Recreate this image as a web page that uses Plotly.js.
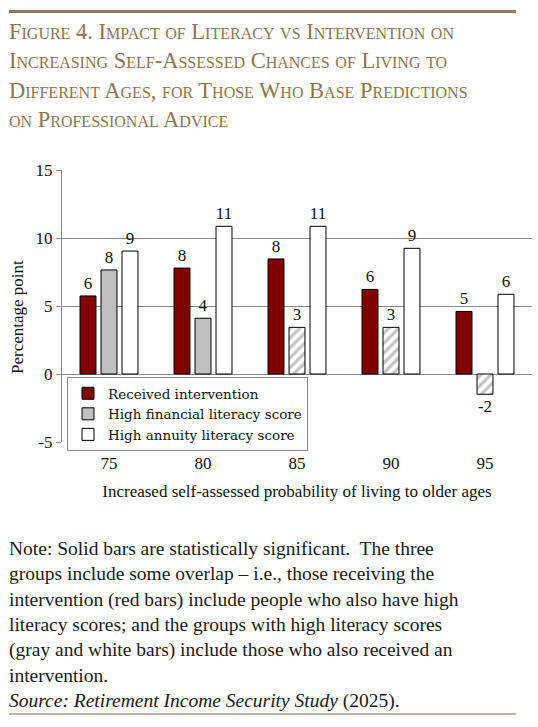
<!DOCTYPE html>
<html>
<head>
<meta charset="utf-8">
<script src="https://cdn.plot.ly/plotly-3.0.1.min.js"></script>
<style>
  html, body { margin: 0; padding: 0; background: #fff; }
  #chart { width: 538px; height: 727px; }
</style>
</head>
<body>
<div id="chart"></div>
<script>
// ages (categories)
const ages = ["75", "80", "85", "90", "95"];

// series values, percentage points
const intervention = [5.74, 7.79, 8.46, 6.22, 4.6];
const finLiteracy = [7.65, 4.1, 3.43, 3.43, -1.49];
const annLiteracy = [9.04, 10.86, 10.86, 9.24, 5.86];

// labels printed on the bars
const interventionLbl = ["6", "8", "8", "6", "5"];
const finLiteracyLbl = ["8", "4", "3", "3", "-2"];
const annLiteracyLbl = ["9", "11", "11", "9", "6"];

// gray bars that are not significant get hatched
const finSignificant = [true, true, false, false, false];

const yTicks = [-5, 0, 5, 10, 15];
const yTickText = ["-5", "0", "5", "10", "15"];
const boundaries = [-0.5, 0.5, 1.5, 2.5, 3.5, 4.5];

const serif = "Liberation Serif, Times New Roman, serif";

// plot area in pixels, used to place the text outside it
const L = 62, R = 532, T = 170, B = 442;
const px2x = x => (x - L) / (R - L);
const px2y = y => 1 - (y - T) / (B - T);

const common = {
  type: "bar",
  x: ages,
  textposition: "outside",
  cliponaxis: false,
  constraintext: "none",
  textfont: { family: serif, size: 17, color: "#111" },
  hoverinfo: "skip"
};

const traces = [
  Object.assign({}, common, {
    name: "Received intervention",
    y: intervention,
    text: interventionLbl,
    marker: { color: "#800000", line: { color: "#000", width: 1 } }
  }),
  Object.assign({}, common, {
    name: "High financial literacy score",
    y: finLiteracy,
    text: finLiteracyLbl,
    marker: {
      color: "#c0c0c0",
      line: { color: "#000", width: 1 },
      pattern: {
        shape: finSignificant.map(s => s ? "" : "/"),
        fgcolor: "#c4c4c4",
        bgcolor: "#fff",
        size: 7,
        solidity: 0.45
      }
    }
  }),
  Object.assign({}, common, {
    name: "High annuity literacy score",
    y: annLiteracy,
    text: annLiteracyLbl,
    marker: { color: "#fff", line: { color: "#000", width: 1 } }
  })
];

const note = "Note: Solid bars are statistically significant.  The three<br>" +
  "groups include some overlap \u2013 i.e., those receiving the<br>" +
  "intervention (red bars) include people who also have high<br>" +
  "literacy scores; and the groups with high literacy scores<br>" +
  "(gray and white bars) include those who also received an<br>" +
  "intervention.<br>" +
  "<i>Source: Retirement Income Security Study</i> (2025).";

const layout = {
  width: 538,
  height: 727,
  margin: { l: L, r: 538 - R, t: T, b: 727 - B },
  paper_bgcolor: "#fff",
  plot_bgcolor: "#fff",
  barmode: "group",
  bargap: 0.33,
  bargroupgap: 0.24,
  showlegend: true,
  title: {
    text: "Figure 4. Impact of Literacy vs Intervention on<br>" +
      "Increasing Self-Assessed Chances of Living to<br>" +
      "Different Ages, for Those Who Base Predictions<br>" +
      "on Professional Advice",
    font: { family: serif, size: 22.5, color: "#8c7651", variant: "small-caps" },
    xref: "container", yref: "container",
    x: 9 / 538, xanchor: "left",
    y: 1 - 39 / 727, yanchor: "top"
  },
  xaxis: {
    type: "category",
    range: [-0.5, 4.5],
    showgrid: false,
    showline: false,
    ticks: "outside",
    ticklen: 6,
    tickcolor: "rgba(0,0,0,0)",
    tickfont: { family: serif, size: 17, color: "#111" },
    title: {
      text: "Increased self-assessed probability of living to older ages",
      font: { family: serif, size: 17, color: "#111" },
      standoff: 12
    }
  },
  // zero line with the category boundary ticks
  xaxis2: {
    overlaying: "x",
    anchor: "free",
    position: px2y(374),
    range: [-0.5, 4.5],
    tickmode: "array",
    tickvals: boundaries,
    showticklabels: false,
    showgrid: false,
    showline: true,
    linecolor: "#8a8a8a",
    ticks: "outside",
    ticklen: 5,
    tickcolor: "#8a8a8a"
  },
  yaxis: {
    range: [-5, 15],
    tickmode: "array",
    tickvals: yTicks,
    ticktext: yTickText,
    showgrid: true,
    gridcolor: "#8a8a8a",
    zeroline: true,
    zerolinecolor: "#8a8a8a",
    showline: true,
    linecolor: "#8a8a8a",
    ticks: "outside",
    ticklen: 5,
    tickcolor: "#8a8a8a",
    tickfont: { family: serif, size: 17, color: "#111" }
  },
  legend: {
    x: px2x(67), y: px2y(377),
    xanchor: "left", yanchor: "top",
    bgcolor: "#fff",
    bordercolor: "#8a8a8a",
    borderwidth: 1,
    font: { family: "DejaVu Serif, serif", size: 13.5, color: "#111" },
    itemwidth: 30,
    tracegroupgap: 0
  },
  annotations: [
    {
      text: "Percentage point",
      textangle: -90,
      xref: "paper", yref: "paper",
      x: px2x(17), y: px2y(317),
      xanchor: "center", yanchor: "middle",
      showarrow: false,
      font: { family: serif, size: 17, color: "#111" }
    },
    {
      text: note,
      xref: "paper", yref: "paper",
      x: px2x(7), y: px2y(536),
      xanchor: "left", yanchor: "top",
      align: "left",
      showarrow: false,
      font: { family: serif, size: 19.5, color: "#1a1a1a" }
    }
  ],
  shapes: [
    {
      type: "line", xref: "paper", yref: "paper",
      x0: px2x(9), x1: px2x(516), y0: px2y(11.5), y1: px2y(11.5),
      line: { color: "#8c7c5c", width: 3 }
    },
    {
      type: "line", xref: "paper", yref: "paper",
      x0: px2x(9), x1: px2x(516), y0: px2y(714), y1: px2y(714),
      line: { color: "#7a6f55", width: 1 }
    }
  ]
};

Plotly.newPlot("chart", traces, layout, { displayModeBar: false, staticPlot: true });
</script>
</body>
</html>
